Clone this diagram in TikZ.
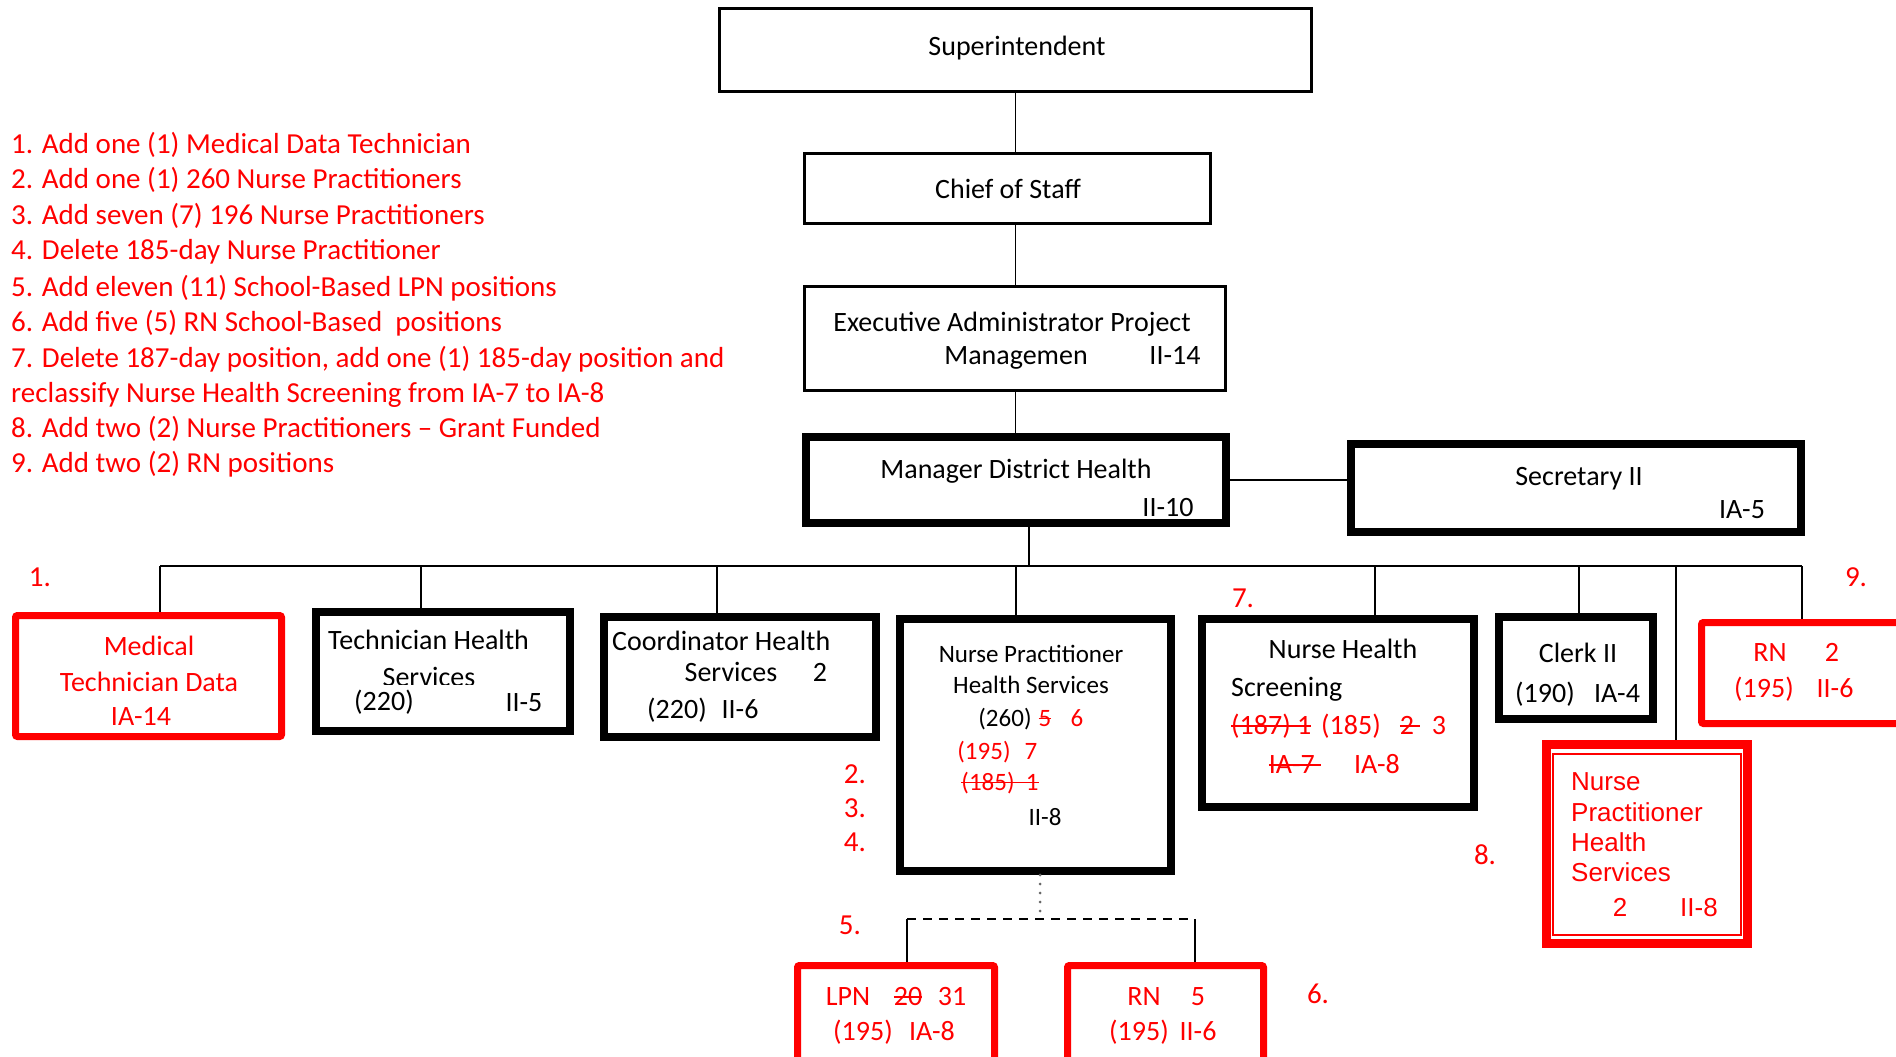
\documentclass[tikz,border=0pt]{standalone}
\usepackage{fontspec}
\setmainfont{Carlito}
\newfontfamily\arialf{Liberation Sans}
\definecolor{rd}{HTML}{FF0000}
\newcommand\strk[1]{\setbox0=\hbox{#1}\rlap{\raisebox{0.28em}{\rule{\wd0}{0.07em}}}\box0}
\newcommand\bx[6]{\node[#2, inner sep=0, minimum width={#5-#3}, minimum height={#6-#4}] (#1) at ({(#3+#5)/2},{(#4+#6)/2}) {};}
\tikzset{
  thinbox/.style={draw, line width=3pt},
  thickbox/.style={draw, line width=8pt},
  redbox/.style={draw=rd, line width=7pt, rounded corners=2pt},
  conn/.style={line width=1.6pt},
  txt/.style={inner sep=0, anchor=mid, yshift=-7pt, font=\fontsize{28}{34}\selectfont},
  txtw/.style={txt, anchor=mid west},
  rtxt/.style={txt, text=rd},
  sml/.style={font=\fontsize{25}{30}\selectfont},
  leg/.style={inner sep=0, anchor=mid west, yshift=-7pt, text=rd, font=\fontsize{29}{35}\selectfont},
  num/.style={inner sep=0, anchor=mid, yshift=-7pt, text=rd, font=\fontsize{29}{35}\selectfont},
  atxt/.style={inner sep=0, anchor=mid west, yshift=-6pt, text=rd, font=\arialf\fontsize{26}{31}\selectfont},
}
\begin{document}
\begin{tikzpicture}[x=1pt,y=-1pt]
\useasboundingbox (0,0) rectangle (1896,1057);
% boxes
\bx{sup}{thinbox}{719.5}{8.5}{1311.5}{91.5}
\bx{chief}{thinbox}{804.5}{153.5}{1210.5}{223.5}
\bx{exec}{thinbox}{804.5}{286.5}{1225.5}{390.5}
\bx{mgr}{thickbox}{806}{437}{1226}{523}
\bx{sec}{thickbox}{1351}{444}{1801}{532}
\bx{med}{redbox}{15.5}{615.5}{281.5}{736.5}
\bx{tech}{thickbox}{316}{612}{570}{731}
\bx{coord}{thickbox}{604}{617}{876}{737}
\bx{np}{thickbox}{900}{619}{1171}{871}
\bx{nhs}{thickbox}{1202}{619}{1474}{807}
\bx{clerk}{thickbox}{1499}{617}{1653}{719}
\bx{rn2}{redbox}{1701.5}{622.5}{1910}{723.5}
\bx{grant}{draw=rd, line width=9pt}{1546.5}{744.5}{1747.5}{943.5}
\bx{granti}{draw=rd, line width=2pt}{1553}{754}{1741}{935}
\bx{lpn}{redbox}{797.5}{965.5}{994.5}{1075}
\bx{rnf}{redbox}{1067.5}{965.5}{1263.5}{1075}
% connectors
\draw[conn] (sup.south) -- (sup.south |- chief.north);
\draw[conn] (chief.south -| sup.south) -- (sup.south |- exec.north);
\draw[conn] (exec.south -| sup.south) -- (sup.south |- mgr.north);
\draw[conn] (mgr.east) -- (mgr.east -| sec.west);
\coordinate (busL) at (160,566);
\coordinate (busR) at (1802,566);
\draw[line width=2.2pt] (busL) -- (busR);
\draw[conn] (1029,0 |- mgr.south) -- (1029,0 |- busL);
\draw[conn] (busL) -- (160,0 |- med.north);
\draw[conn] (421,0 |- busL) -- (421,0 |- tech.north);
\draw[conn] (717,0 |- busL) -- (717,0 |- coord.north);
\draw[conn] (1016,0 |- busL) -- (1016,0 |- np.north);
\draw[conn] (1375,0 |- busL) -- (1375,0 |- nhs.north);
\draw[conn] (1579,0 |- busL) -- (1579,0 |- clerk.north);
\draw[conn] (1676,0 |- busL) -- (1676,0 |- grant.north);
\draw[conn] (busR) -- (1802,0 |- rn2.north);
\coordinate (dotend) at (1040,919);
\draw[line width=3pt, line cap=round, dash pattern=on 0pt off 9pt, black!60] (dotend |- np.south) -- (dotend);
\draw[line width=1.6pt, dash pattern=on 9pt off 7pt] (907,919) -- (1195,919);
\draw[conn] (907,919) -- (907,0 |- lpn.north);
\draw[conn] (1195,919) -- (1195,0 |- rnf.north);
% legend
\node[leg] (l1) at (11,144) {1. Add one (1) Medical Data Technician};
\node[leg] (l2) at (11,179) {2. Add one (1) 260 Nurse Practitioners};
\node[leg] (l3) at (11,215) {3. Add seven (7) 196 Nurse Practitioners};
\node[leg] (l4) at (11,250) {4. Delete 185-day Nurse Practitioner};
\node[leg] (l5) at (11,287) {5. Add eleven (11) School-Based LPN positions};
\node[leg] (l6) at (11,322) {6. Add five (5) RN School-Based\ \ positions};
\node[leg] (l7) at (11,358) {7. Delete 187-day position, add one (1) 185-day position and};
\node[leg] (l8) at (11,393) {reclassify Nurse Health Screening from IA-7 to IA-8};
\node[leg] (l9) at (11,428) {8. Add two (2) Nurse Practitioners -- Grant Funded};
\node[leg] (l10) at (11,463) {9. Add two (2) RN positions};
% top texts
\node[txt] (tsup) at (1017,46) {Superintendent};
\node[txt] (tchief) at (1008,189) {Chief of Staff};
\node[txt] (texec) at (1012,322) {Executive Administrator Project};
\begin{scope}
\clip (900,335) rectangle (1120,368);
\node[txt] (texec2) at (1016,355) {Managemen};
\end{scope}
\node[txt] (texec3) at (1175,355) {II-14};
\node[txt] (tmgr) at (1016,469) {Manager District Health};
\node[txt] (tmgr2) at (1168,507) {II-10};
\node[txt] (tsec) at (1579,476) {Secretary II};
\node[txt] (tsec2) at (1742,509) {IA-5};
% medical
\node[rtxt] (tmed1) at (149,646) {Medical};
\node[rtxt] (tmed2) at (149,682) {Technician Data};
\node[rtxt] (tmed3) at (141,716) {IA-14};
% technician
\node[txtw] (ttech1) at (328,640) {Technician Health};
\begin{scope}
\clip (360,655) rectangle (500,684);
\node[txt] (ttech2) at (429,677) {Services};
\end{scope}
\node[txt] (ttech3) at (384,701) {(220)};
\node[txt] (ttech4) at (524,702) {II-5};
% coordinator
\node[txtw] (tco1) at (612,641) {Coordinator Health};
\node[txt] (tco2) at (731,672) {Services};
\node[txt] (tco3) at (820,672) {2};
\node[txt] (tco4) at (677,709) {(220)};
\node[txt] (tco5) at (740,709) {II-6};
% nurse practitioner
\node[txt,sml] (tnp1) at (1031,653) {Nurse Practitioner};
\node[txt,sml] (tnp2) at (1031,684) {Health Services};
\node[txt,sml] (tnp3) at (1005,717) {(260)};
\node[rtxt,sml] (tnp4) at (1045,717) {\strk{5}};
\node[rtxt,sml] (tnp5) at (1077,717) {6};
\node[rtxt,sml] (tnp6) at (984,750) {(195)};
\node[rtxt,sml] (tnp7) at (1031,750) {7};
\node[rtxt,sml] (tnp8) at (1000,781) {\strk{(185)\ \ 1}};
\node[txt,sml] (tnp9) at (1045,816) {II-8};
% nurse health screening
\node[txt] (tnh1) at (1343,649) {Nurse Health};
\node[txtw] (tnh2) at (1231,687) {Screening};
\node[txtw,text=rd] (tnh3) at (1231,725) {\strk{(187)\ 1}};
\node[rtxt] (tnh4) at (1351,725) {(185)};
\node[rtxt] (tnh5) at (1410,725) {\strk{2\ }};
\node[rtxt] (tnh6) at (1439,725) {3};
\node[rtxt] (tnh7) at (1295,764) {\strk{IA-7\ }};
\node[rtxt] (tnh8) at (1377,764) {IA-8};
% clerk
\node[txt] (tcl1) at (1578,653) {Clerk II};
\node[txt] (tcl2) at (1545,693) {(190)};
\node[txt] (tcl3) at (1617,693) {IA-4};
% rn 2
\node[rtxt] (trn1) at (1770,652) {RN};
\node[rtxt] (trn2) at (1832,652) {2};
\node[rtxt] (trn3) at (1764,688) {(195)};
\node[rtxt] (trn4) at (1835,688) {II-6};
% grant
\node[atxt] (tg1) at (1571,782) {Nurse};
\node[atxt] (tg2) at (1571,813) {Practitioner};
\node[atxt] (tg3) at (1571,843) {Health};
\node[atxt] (tg4) at (1571,873) {Services};
\node[atxt,anchor=mid] (tg5) at (1620,908) {2};
\node[atxt,anchor=mid] (tg6) at (1699,908) {II-8};
% lpn
\node[rtxt] (tl1) at (848,996) {LPN};
\node[rtxt] (tl2) at (908,996) {\strk{20}};
\node[rtxt] (tl3) at (952,996) {31};
\node[rtxt] (tl4) at (863,1031) {(195)};
\node[rtxt] (tl5) at (932,1031) {IA-8};
% rn 5
\node[rtxt] (tr1) at (1144,996) {RN};
\node[rtxt] (tr2) at (1198,996) {5};
\node[rtxt] (tr3) at (1139,1031) {(195)};
\node[rtxt] (tr4) at (1198,1031) {II-6};
% numbers
\node[num] (n1) at (40,577) {1.};
\node[num] (n7) at (1243,598) {7.};
\node[num] (n9) at (1856,577) {9.};
\node[num] (n2) at (855,774) {2.};
\node[num] (n3) at (855,808) {3.};
\node[num] (n4) at (855,842) {4.};
\node[num] (n8) at (1485,855) {8.};
\node[num] (n5) at (850,925) {5.};
\node[num] (n6) at (1318,994) {6.};
\end{tikzpicture}
\end{document}
